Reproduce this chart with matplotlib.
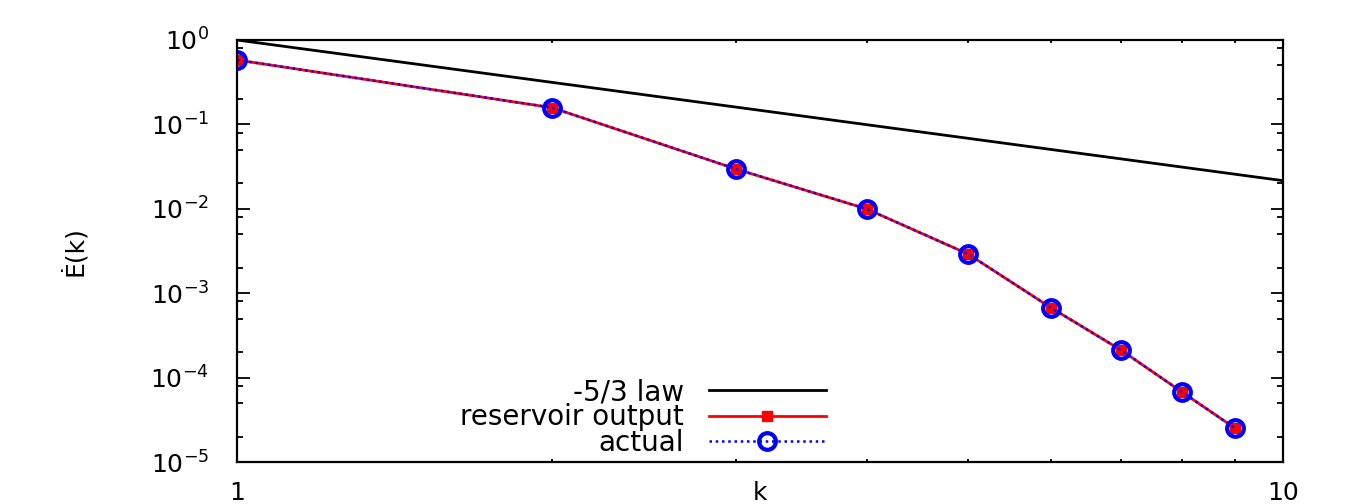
import numpy as np
import matplotlib
matplotlib.use("Agg")
import matplotlib.pyplot as plt
from matplotlib.ticker import LogLocator, NullFormatter, FixedLocator, FixedFormatter

plt.rcParams['font.family'] = ['DejaVu Sans']
plt.rcParams['mathtext.default'] = 'regular'

# data
k = [1, 2, 3, 4, 5, 6, 7, 8, 9]
reservoir = [0.58, 0.158, 0.0296, 0.00995, 0.00291, 6.73e-4, 2.12e-4, 6.8e-5, 2.51e-5]
actual = [0.58, 0.158, 0.0296, 0.00995, 0.00291, 6.73e-4, 2.12e-4, 6.8e-5, 2.51e-5]
law_k = [1, 10]
law_exp = -5.0 / 3.0

fig = plt.figure(figsize=(13.49, 5.04), dpi=100)
ax = fig.add_axes([237 / 1349, 1 - 462 / 504, (1283 - 237) / 1349, (462 - 40) / 504])

law_e = [kk ** law_exp for kk in law_k]
ax.plot(law_k, law_e, color='black', lw=2.0, label='-5/3 law')
ax.plot(k, reservoir, color='#ff0000', lw=2.0, marker='s', ms=7,
        mfc='#ff0000', mec='#ff0000', label='reservoir output')
ax.plot(k, actual, color='#0000ff', lw=1.8, ls=(0, (1, 1.5)), marker='o', ms=12,
        mfc='none', mec='#0000ff', mew=3, label='actual')

ax.set_xscale('log')
ax.set_yscale('log')
ax.set_xlim(1, 10)
ax.set_ylim(1e-5, 1)

ax.xaxis.set_major_locator(FixedLocator([1, 10]))
ax.xaxis.set_major_formatter(FixedFormatter(['1', '10']))
ax.xaxis.set_minor_locator(LogLocator(base=10, subs=np.arange(2, 10)))
ax.xaxis.set_minor_formatter(NullFormatter())
ax.yaxis.set_major_locator(LogLocator(base=10, numticks=10))
ax.yaxis.set_minor_locator(LogLocator(base=10, subs=[2, 5, 8], numticks=10))
ax.yaxis.set_minor_formatter(NullFormatter())

ax.tick_params(which='both', direction='in', top=True, right=True, width=1.3)
ax.tick_params(axis='y', which='major', length=9, labelsize=18, pad=20)
ax.tick_params(axis='y', which='minor', length=4)
ax.tick_params(axis='x', which='major', length=9, labelsize=18, pad=14)
ax.tick_params(axis='x', which='minor', length=2.5)

for sp in ax.spines.values():
    sp.set_linewidth(1.6)

ax.set_xlabel('k', fontsize=18, va='top')
ax.xaxis.set_label_coords(0.5, -0.045)
ax.set_ylabel('Ė(k)', fontsize=18)
ax.yaxis.set_label_coords(-0.143, 0.5)

leg = ax.legend(loc='lower right', bbox_to_anchor=(0.576, -0.02), frameon=False,
                markerfirst=False, fontsize=20, numpoints=1, borderpad=0,
                handlelength=4.2, handletextpad=0.9, labelspacing=-0.1)

fig.savefig('out.png', dpi=100)
